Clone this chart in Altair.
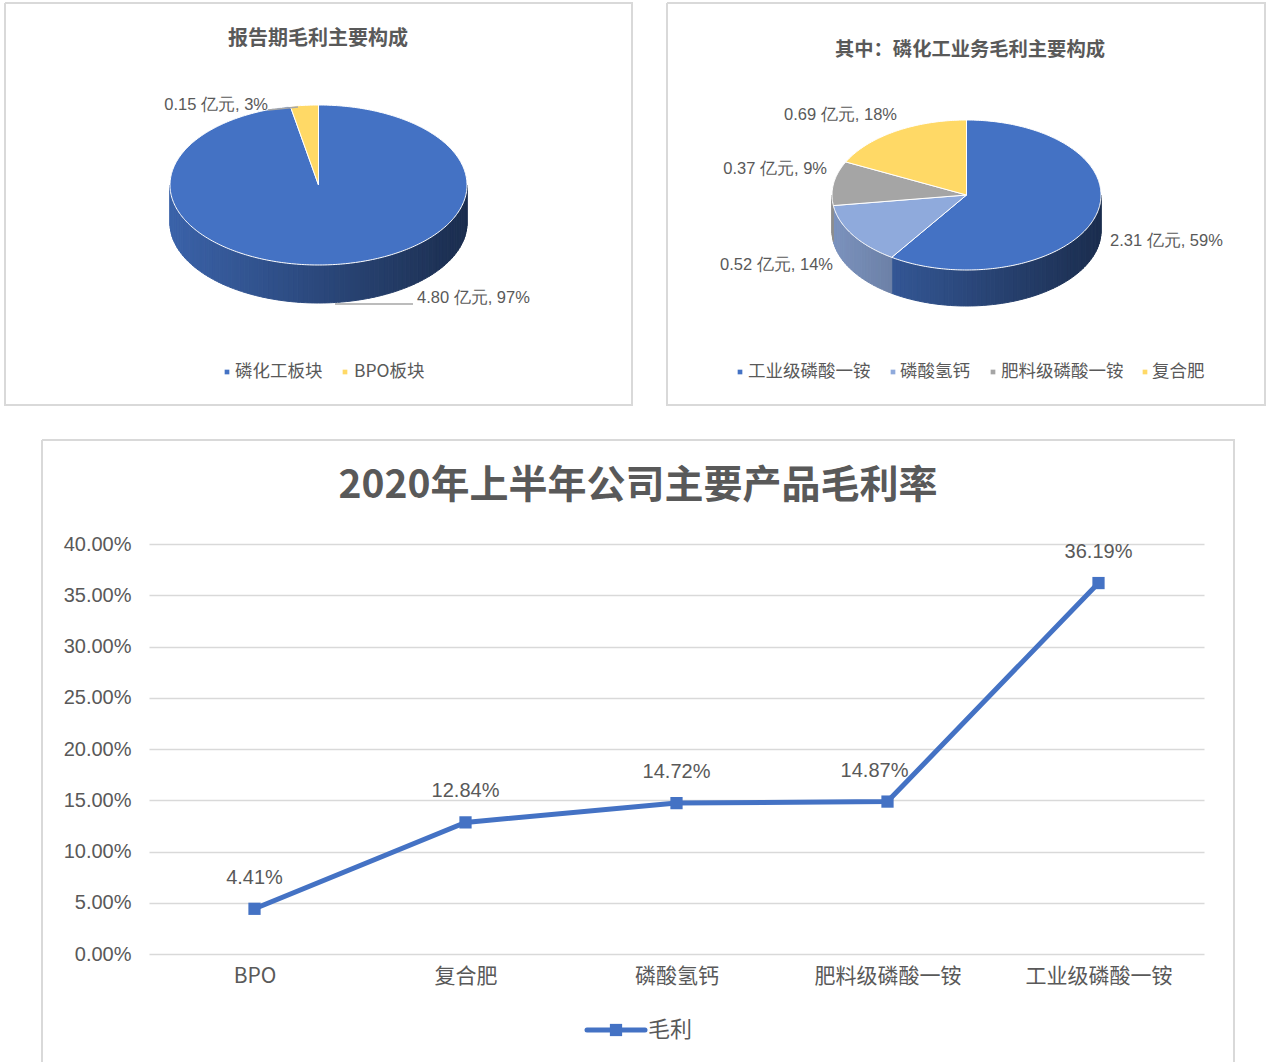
import math
import altair as alt
import pandas as pd

# ---------------- data ----------------
products = ["BPO", "复合肥", "磷酸氢钙", "肥料级磷酸一铵", "工业级磷酸一铵"]
margin_pct = [4.41, 12.84, 14.72, 14.87, 36.19]
margin_text = ["4.41%", "12.84%", "14.72%", "14.87%", "36.19%"]
y_ticks = [0, 0.05, 0.10, 0.15, 0.20, 0.25, 0.30, 0.35, 0.40]
series_name = "毛利"

seg_a = ["磷化工板块", "BPO板块"]
val_a = [4.80, 0.15]
lab_a = ["4.80 亿元, 97%", "0.15 亿元, 3%"]

seg_b = ["工业级磷酸一铵", "磷酸氢钙", "肥料级磷酸一铵", "复合肥"]
val_b = [2.31, 0.52, 0.37, 0.69]
lab_b = ["2.31 亿元, 59%", "0.52 亿元, 14%", "0.37 亿元, 9%", "0.69 亿元, 18%"]

titles = ["报告期毛利主要构成", "其中：磷化工业务毛利主要构成", "2020年上半年公司主要产品毛利率"]

# ---------------- styles / layout ----------------
col_a = ["#4472C4", "#FFD966"]
col_b = ["#4472C4", "#8FAADC", "#A5A5A5", "#FFD966"]
LINE_COLOR = "#4472C4"
TXT = "#595959"
BORDER = "#d9d9d9"
CJK = "Noto Sans CJK SC"
LAT = "Liberation Sans"

OX, OY = 149, 544          # plot-area origin on the canvas
W, H = 1055, 410           # plot-area size


def v(x, y):
    return [x - OX, y - OY]


PIE_A = dict(cx=318.5, cy=185, rx=148.5, ry=80, depth=38)
PIE_B = dict(cx=966.5, cy=195, rx=134.5, ry=75, depth=36)

title_pos = [(318, 39, 20), (970, 50, 19.3), (638, 486, 39)]
lab_a_pos = [(417, 298, "left"), (268, 105, "right")]
lab_b_pos = [(1110, 241, "left"), (833, 265, "right"), (827, 169, "right"), (897, 115, "right")]
leg_a_pos = [(227, 235), (345, 354)]
leg_b_pos = [(740, 748), (893, 900), (993, 1001), (1145, 1152)]
LEG_Y = 372
leaders = [[(268, 110), (298, 107)], [(335, 304), (413, 304)]]
borders = [[(5, 3), (632, 3), (632, 405), (5, 405)],
           [(667, 3), (1265, 3), (1265, 405), (667, 405)],
           [(42, 440), (1234, 440), (1234, 1080), (42, 1080)]]
series_leg = dict(x0=587, x1=645, y=1030, tx=648)
value_label_shift = {"肥料级磷酸一铵": -13}


def geo(ch):
    return ch.project(type="identity", scale=1, translate=[0, 0])


# ---------------- pie geometry (derived from the values) ----------------
def pt(p, f, dy=0.0):
    a = 2 * math.pi * f
    return v(p["cx"] + p["rx"] * math.sin(a), p["cy"] - p["ry"] * math.cos(a) + dy)


def arc(p, f0, f1, dy=0.0):
    n = max(2, int(math.ceil(abs(f1 - f0) * 360)))
    return [pt(p, f0 + (f1 - f0) * k / n, dy) for k in range(n + 1)]


def shade(hexc, k):
    r, g, b = int(hexc[1:3], 16), int(hexc[3:5], 16), int(hexc[5:7], 16)
    return "#%02x%02x%02x" % (round(r * k), round(g * k), round(b * k))


def poly(ring, color):
    return {"type": "Feature", "properties": {"c": color},
            "geometry": {"type": "Polygon", "coordinates": [ring]}}


def lines(pts, color="x"):
    return {"type": "Feature", "properties": {"c": color},
            "geometry": {"type": "LineString", "coordinates": [v(x, y) for x, y in pts]}}


def pie_features(p, vals, cols):
    total = sum(vals)
    tops, sides = [], []
    f0 = 0.0
    for val, col in zip(vals, cols):
        f1 = f0 + val / total
        c = v(p["cx"], p["cy"])
        tops.append(poly([c] + arc(p, f0, f1) + [c], col))
        a, b = max(f0, 0.25), min(f1, 0.75)
        if b > a:
            n = int(math.ceil((b - a) * 180))
            for k in range(n):
                s0 = a + (b - a) * k / n
                s1 = a + (b - a) * (k + 1) / n
                top = arc(p, s0, s1)
                bot = arc(p, s1, s0, p["depth"])
                xm = p["rx"] * math.sin(math.pi * (s0 + s1))
                t = (xm + p["rx"]) / (2 * p["rx"])
                sides.append(poly(top + bot + [top[0]], shade(col, 0.86 - 0.46 * t)))
        f0 = f1
    return tops, sides


tops_a, sides_a = pie_features(PIE_A, val_a, col_a)
tops_b, sides_b = pie_features(PIE_B, val_b, col_b)

side_layer = geo(alt.Chart(alt.Data(values=sides_a + sides_b)).mark_geoshape(strokeWidth=1, clip=False).encode(
    fill=alt.Fill("properties.c:N", scale=None),
    stroke=alt.Stroke("properties.c:N", scale=None),
))

top_layer = geo(alt.Chart(alt.Data(values=tops_a + tops_b)).mark_geoshape(
    stroke="white", strokeWidth=1, clip=False
).encode(
    fill=alt.Fill("properties.c:N", scale=None),
))

border_layer = geo(alt.Chart(alt.Data(values=[lines(b + [b[0]]) for b in borders])).mark_geoshape(
    filled=False, stroke=BORDER, strokeWidth=2, clip=False
))

leader_layer = geo(alt.Chart(alt.Data(values=[lines(l) for l in leaders])).mark_geoshape(
    filled=False, stroke="#a6a6a6", strokeWidth=1.5, clip=False
))

sl = series_leg
series_line_layer = geo(alt.Chart(
    alt.Data(values=[lines([(sl["x0"], sl["y"]), (sl["x1"], sl["y"])])])
).mark_geoshape(filled=False, stroke=LINE_COLOR, strokeWidth=5, strokeCap="round", clip=False))

# ---------------- texts ----------------
title_df = pd.DataFrame({
    "text": titles,
    "lon": [v(x, y)[0] for x, y, s in title_pos],
    "lat": [v(x, y)[1] for x, y, s in title_pos],
    "size": [s for x, y, s in title_pos],
})
title_layer = geo(alt.Chart(title_df).mark_text(
    font=CJK, fontWeight="bold", color=TXT, align="center", baseline="middle", clip=False
).encode(
    longitude="lon:Q", latitude="lat:Q", text="text:N", size=alt.Size("size:Q", scale=None)
))

leg_rows = []
for name, col, (sx, tx) in zip(seg_a + seg_b, col_a + col_b, leg_a_pos + leg_b_pos):
    leg_rows.append({"text": name, "c": col, "sx": sx - OX, "tx": tx - OX, "y": LEG_Y - OY, "size": 17.5})
leg_df = pd.DataFrame(leg_rows)
series_df = pd.DataFrame([{"text": series_name, "c": LINE_COLOR,
                           "sx": (sl["x0"] + sl["x1"]) / 2 - OX, "tx": sl["tx"] - OX,
                           "y": sl["y"] - OY, "size": 22}])

legend_text_layer = geo(alt.Chart(pd.concat([leg_df, series_df])).mark_text(
    font=CJK, color=TXT, align="left", baseline="middle", clip=False
).encode(
    longitude="tx:Q", latitude="y:Q", text="text:N", size=alt.Size("size:Q", scale=None)
))

legend_sq_layer = geo(alt.Chart(leg_df).mark_point(shape="square", filled=True, size=22, opacity=1, clip=False).encode(
    longitude="sx:Q", latitude="y:Q", color=alt.Color("c:N", scale=None)
))

series_sq_layer = geo(alt.Chart(series_df).mark_point(shape="square", filled=True, size=150, opacity=1,
                                                      color=LINE_COLOR, clip=False).encode(
    longitude="sx:Q", latitude="y:Q"
))

lab_rows = []
for txt, (x, y, al) in zip(lab_a + lab_b, lab_a_pos + lab_b_pos):
    lab_rows.append({"text": txt, "lon": x - OX, "lat": y - OY, "al": al})
lab_df = pd.DataFrame(lab_rows)
pie_label_layers = [
    geo(alt.Chart(lab_df[lab_df["al"] == al]).mark_text(
        font=LAT, fontSize=16.5, color=TXT, align=al, baseline="middle", clip=False
    ).encode(longitude="lon:Q", latitude="lat:Q", text="text:N"))
    for al in ["left", "right"]
]

# ---------------- line chart ----------------
line_df = pd.DataFrame({
    "product": products,
    "margin": [m / 100 for m in margin_pct],
    "label": margin_text,
})

xenc = alt.X(
    "product:N", sort=products, scale=alt.Scale(type="point", padding=0.5),
    axis=alt.Axis(title=None, labelAngle=0, labelFontSize=21, labelColor=TXT, labelFont=CJK,
                  domain=False, ticks=False, labelPadding=11, grid=False),
)
yenc = alt.Y(
    "margin:Q", scale=alt.Scale(domain=[0, 0.4], nice=False),
    axis=alt.Axis(title=None, values=y_ticks, format=".2%", labelFontSize=20, labelColor=TXT,
                  labelFont=LAT, domain=False, ticks=False, labelPadding=18,
                  grid=True, gridColor=BORDER, gridWidth=1.5),
)

base = alt.Chart(line_df).encode(x=xenc, y=yenc)
line_layer = base.mark_line(color=LINE_COLOR, strokeWidth=5)
point_layer = base.mark_point(shape="square", filled=True, size=150, opacity=1, color=LINE_COLOR)
shifted = list(value_label_shift.keys())
value_layer = base.mark_text(dy=-31, fontSize=20, color=TXT, font=LAT).encode(
    text="label:N"
).transform_filter(~alt.FieldOneOfPredicate(field="product", oneOf=shifted))
value_layers_shifted = [
    base.mark_text(dy=-31, dx=dx, fontSize=20, color=TXT, font=LAT).encode(
        text="label:N"
    ).transform_filter(alt.FieldEqualPredicate(field="product", equal=name))
    for name, dx in value_label_shift.items()
]

chart = alt.layer(
    border_layer, side_layer, top_layer, leader_layer, *pie_label_layers,
    title_layer, legend_sq_layer, legend_text_layer,
    line_layer, point_layer, value_layer, *value_layers_shifted,
    series_line_layer, series_sq_layer,
).properties(
    width=W, height=H,
    autosize=alt.AutoSizeParams(type="none"),
    padding={"left": OX, "top": OY, "right": 1266 - OX - W, "bottom": 1062 - OY - H},
    background="white",
).configure_view(strokeWidth=0)

chart.save("out.html", embed_options={"renderer": "svg", "actions": False})
